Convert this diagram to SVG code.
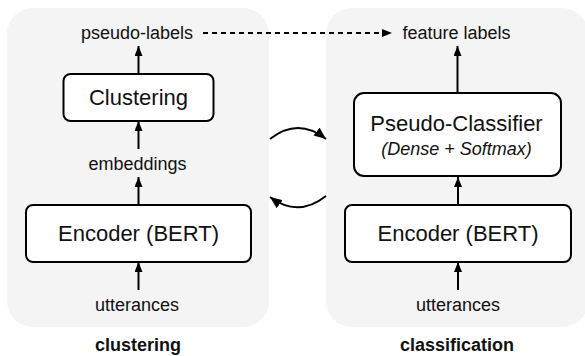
<svg xmlns="http://www.w3.org/2000/svg" width="585" height="356" viewBox="0 0 585 356">
  <defs>
    <marker id="ah" viewBox="0 0 10 8" refX="10" refY="4" markerWidth="10" markerHeight="8" markerUnits="userSpaceOnUse" orient="auto">
      <path d="M0,0 L10,4 L0,8 Z" fill="#000"/>
    </marker>
    <marker id="ahc" viewBox="0 0 12 10" refX="12" refY="5" markerWidth="12" markerHeight="10" markerUnits="userSpaceOnUse" orient="auto">
      <path d="M0,0 L12,5 L0,10 Z" fill="#000"/>
    </marker>
    <style>
      .panel { fill: #f4f4f4; stroke: none; }
      .box { fill: #fff; stroke: #000; stroke-width: 2; }
      text { font-family: "Liberation Sans", Arial, sans-serif; fill: #111; text-anchor: middle; }
      .lbl { font-size: 18px; }
      .big { font-size: 22px; }
      .it { font-size: 18px; font-style: italic; }
      .cap { font-size: 18px; font-weight: bold; }
      .arr { stroke: #000; stroke-width: 2; fill: none; marker-end: url(#ah); }
      .dash { stroke: #000; stroke-width: 2; fill: none; stroke-dasharray: 5 4; marker-end: url(#ah); }
      .curve { stroke: #000; stroke-width: 2; fill: none; marker-end: url(#ahc); }
    </style>
  </defs>

  <g id="panel-clustering">
    <rect class="panel" x="7" y="8" width="262" height="319" rx="26"/>
    <text class="cap" x="138" y="351">clustering</text>
  </g>
  <g id="panel-classification">
    <rect class="panel" x="326" y="8" width="262" height="319" rx="26"/>
    <text class="cap" x="457" y="351">classification</text>
  </g>

  <g id="pseudo-labels"><text class="lbl" x="137" y="39">pseudo-labels</text></g>
  <g id="clustering-box">
    <rect class="box" x="63.5" y="74" width="150" height="47" rx="7"/>
    <text class="big" x="138.5" y="105">Clustering</text>
  </g>
  <g id="embeddings"><text class="lbl" x="137.5" y="170">embeddings</text></g>
  <g id="encoder-left">
    <rect class="box" x="26" y="205" width="225" height="57" rx="7"/>
    <text class="big" x="138.5" y="241">Encoder (BERT)</text>
  </g>
  <g id="utterances-left"><text class="lbl" x="137" y="311">utterances</text></g>

  <g id="feature-labels"><text class="lbl" x="456.5" y="39">feature labels</text></g>
  <g id="pseudo-classifier">
    <rect class="box" x="354" y="93" width="207" height="83" rx="10"/>
    <text class="big" x="456.5" y="131">Pseudo-Classifier</text>
    <text class="it" x="456.5" y="155">(Dense + Softmax)</text>
  </g>
  <g id="encoder-right">
    <rect class="box" x="345" y="205" width="226" height="57" rx="7"/>
    <text class="big" x="458" y="241">Encoder (BERT)</text>
  </g>
  <g id="utterances-right"><text class="lbl" x="458" y="311">utterances</text></g>

  <g id="connectors">
    <path class="arr" d="M138.5,74 L138.5,46"/>
    <path class="arr" d="M138.5,149 L138.5,121"/>
    <path class="arr" d="M138.5,205 L138.5,177"/>
    <path class="arr" d="M138.5,290 L138.5,262"/>
    <path class="arr" d="M457.5,93 L457.5,46"/>
    <path class="arr" d="M458,205 L458,177"/>
    <path class="arr" d="M458,290 L458,262"/>
    <path class="dash" d="M203,33 L392,33"/>
    <path class="curve" d="M270,139 Q298,117 326,139"/>
    <path class="curve" d="M326,196 Q298,218 270,197"/>
  </g>
</svg>
